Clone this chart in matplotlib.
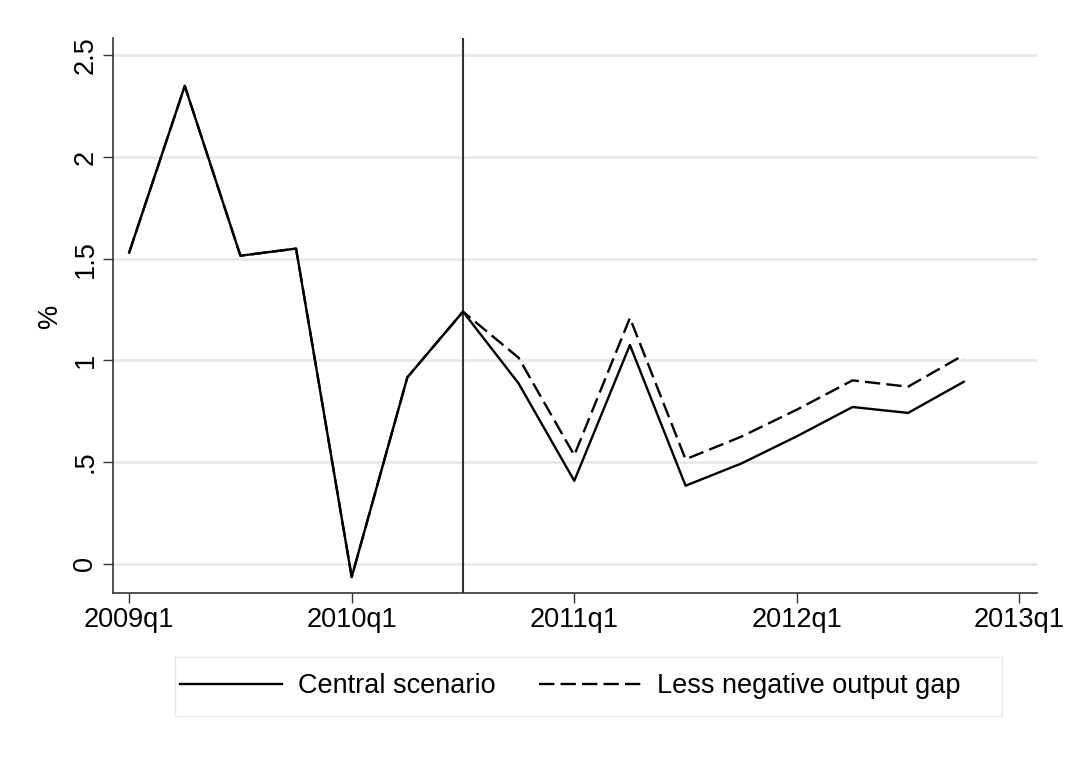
import numpy as np
import matplotlib.pyplot as plt
from matplotlib.patches import Rectangle

plt.rcParams['font.family'] = ['Liberation Sans', 'DejaVu Sans']

# quarters 2009q1 .. 2012q4
quarters = ['2009q1', '2009q2', '2009q3', '2009q4',
            '2010q1', '2010q2', '2010q3', '2010q4',
            '2011q1', '2011q2', '2011q3', '2011q4',
            '2012q1', '2012q2', '2012q3', '2012q4']
central = [1.53, 2.35, 1.515, 1.55, -0.065, 0.917, 1.24, 0.887,
           0.408, 1.076, 0.384, 0.493, 0.627, 0.771, 0.742, 0.895]
less_neg_gap = [1.53, 2.35, 1.515, 1.55, -0.065, 0.917, 1.24, 1.013,
                0.534, 1.209, 0.514, 0.625, 0.758, 0.902, 0.871, 1.027]
tick_labels = ['2009q1', '2010q1', '2011q1', '2012q1', '2013q1']
y_ticks = [0, 0.5, 1, 1.5, 2, 2.5]
y_tick_labels = ['0', '.5', '1', '1.5', '2', '2.5']
forecast_start = '2010q3'

x = np.arange(len(quarters))

fig = plt.figure(figsize=(10.66, 7.74), dpi=100)
ax = fig.add_axes([0.106, 0.234, 0.867, 0.717])

ax.set_xlim(-0.29, 16.32)
ax.set_ylim(-0.143, 2.586)

for yt in y_ticks:
    ax.axhline(yt, color='#e8e8e8', lw=2, zorder=0)

ax.axvline(quarters.index(forecast_start), color='#333333', lw=1.5, zorder=1)

ax.plot(x, central, color='black', lw=1.7, label='Central scenario', zorder=3)
ax.plot(x, less_neg_gap, color='black', lw=1.7, ls=(0, (6.5, 2.6)),
        label='Less negative output gap', zorder=2)

ax.set_xticks(np.arange(0, 17, 4))
ax.set_xticklabels(tick_labels)
ax.set_yticks(y_ticks)
ax.set_yticklabels(y_tick_labels, rotation=90, va='center')
ax.tick_params(axis='both', labelsize=19.5, length=7.5, width=1, color='#333333', pad=3)
ax.set_ylabel('%', fontsize=19.5, labelpad=7)

for s in ['top', 'right']:
    ax.spines[s].set_visible(False)
for s in ['left', 'bottom']:
    ax.spines[s].set_color('#333333')
    ax.spines[s].set_linewidth(1.2)

# legend frame
fig.patches.append(Rectangle((175 / 1066, 1 - 716 / 774), 827 / 1066, 59 / 774,
                             transform=fig.transFigure, fill=False,
                             edgecolor='#e6e6e6', lw=1))
fig.legend(loc='center', bbox_to_anchor=(0.535, 1 - 686 / 774), ncol=2,
           frameon=False, fontsize=19.5, handlelength=3.75, handletextpad=0.6,
           columnspacing=1.6)

fig.savefig('out.png', dpi=100, facecolor='white')
